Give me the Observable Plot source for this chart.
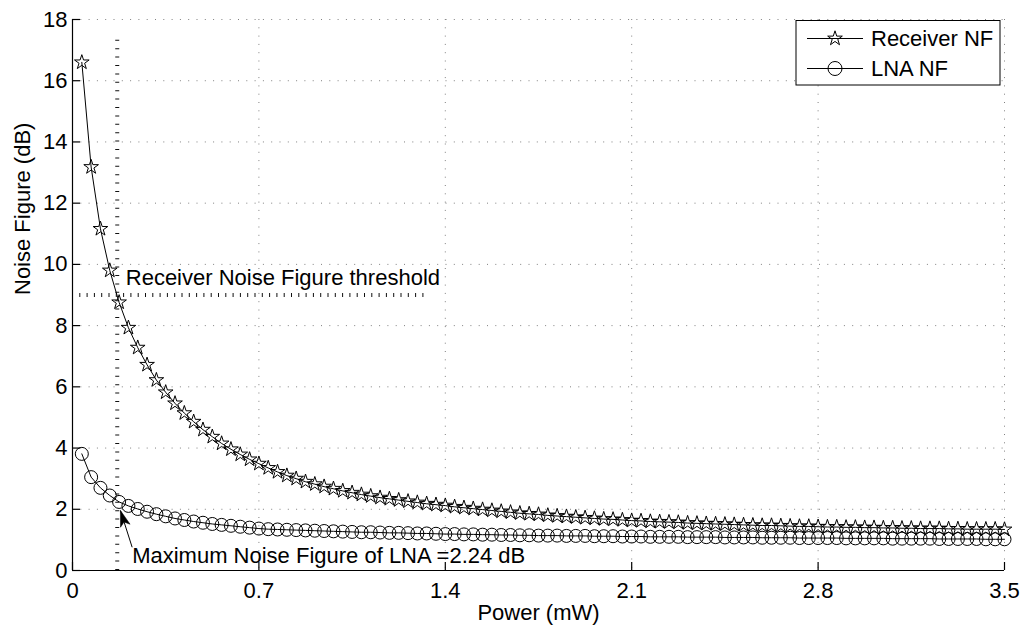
<!DOCTYPE html>
<html><head><meta charset="utf-8">
<script src="https://cdn.jsdelivr.net/npm/d3@7"></script>
<script src="https://cdn.jsdelivr.net/npm/@observablehq/plot@0.6"></script>
<style>html,body{margin:0;padding:0;background:#fff;} #chart{width:1020px;height:626px;}</style>
</head><body><div id="chart"></div>
<script>
// ---- data ----
const power = [
  0.035,0.07,0.105,0.14,0.175,0.21,0.245,0.28,0.315,0.35,
  0.385,0.42,0.455,0.49,0.525,0.56,0.595,0.63,0.665,0.7,
  0.735,0.77,0.805,0.84,0.875,0.91,0.945,0.98,1.015,1.05,
  1.085,1.12,1.155,1.19,1.225,1.26,1.295,1.33,1.365,1.4,
  1.435,1.47,1.505,1.54,1.575,1.61,1.645,1.68,1.715,1.75,
  1.785,1.82,1.855,1.89,1.925,1.96,1.995,2.03,2.065,2.1,
  2.135,2.17,2.205,2.24,2.275,2.31,2.345,2.38,2.415,2.45,
  2.485,2.52,2.555,2.59,2.625,2.66,2.695,2.73,2.765,2.8,
  2.835,2.87,2.905,2.94,2.975,3.01,3.045,3.08,3.115,3.15,
  3.185,3.22,3.255,3.29,3.325,3.36,3.395,3.43,3.465,3.5
];
const receiverNF = [
  16.60,13.18,11.16,9.80,8.76,7.93,7.28,6.72,6.22,5.82,
  5.46,5.14,4.86,4.60,4.37,4.15,3.96,3.79,3.63,3.49,
  3.35,3.22,3.10,3.00,2.90,2.82,2.74,2.67,2.60,2.54,
  2.48,2.43,2.38,2.34,2.30,2.26,2.22,2.18,2.15,2.12,
  2.08,2.05,2.02,1.99,1.96,1.93,1.90,1.87,1.85,1.83,
  1.80,1.78,1.76,1.74,1.72,1.70,1.68,1.67,1.65,1.63,
  1.62,1.60,1.59,1.58,1.57,1.55,1.54,1.53,1.52,1.51,
  1.50,1.49,1.48,1.47,1.47,1.46,1.45,1.44,1.44,1.43,
  1.42,1.42,1.41,1.41,1.40,1.40,1.39,1.39,1.38,1.38,
  1.37,1.37,1.37,1.36,1.36,1.35,1.35,1.35,1.35,1.34
];
const lnaNF = [
  3.81,3.05,2.70,2.45,2.24,2.11,2.01,1.92,1.84,1.77,
  1.70,1.65,1.60,1.56,1.52,1.49,1.46,1.43,1.40,1.37,
  1.35,1.34,1.33,1.32,1.31,1.30,1.29,1.28,1.27,1.26,
  1.25,1.25,1.24,1.23,1.23,1.22,1.21,1.21,1.20,1.19,
  1.19,1.18,1.18,1.17,1.17,1.16,1.16,1.15,1.15,1.14,
  1.14,1.14,1.13,1.13,1.13,1.12,1.12,1.12,1.11,1.11,
  1.11,1.10,1.10,1.10,1.10,1.09,1.09,1.09,1.09,1.08,
  1.08,1.08,1.08,1.07,1.07,1.07,1.07,1.06,1.06,1.06,
  1.06,1.06,1.05,1.05,1.05,1.05,1.05,1.04,1.04,1.04,
  1.04,1.04,1.03,1.03,1.03,1.03,1.03,1.02,1.02,1.02
];
const xTicks = [0, 0.7, 1.4, 2.1, 2.8, 3.5];
const yTicks = [0, 2, 4, 6, 8, 10, 12, 14, 16, 18];
const seriesNames = ["Receiver NF", "LNA NF"];
const xLabel = "Power (mW)";
const yLabel = "Noise Figure (dB)";
const thresholdNF = 9;
const thresholdEnd = 1.34;
const thresholdLabel = "Receiver Noise Figure threshold";
const maxLnaPower = 0.168;
const maxLnaTop = 17.5;
const maxLnaLabel = "Maximum Noise Figure of LNA =2.24 dB";
const arrowFrom = {x: 0.224, y: 0.76};
const arrowTo = {x: 0.180, y: 1.96};

// ---- build ----
const rx = power.map((p, i) => ({p, nf: receiverNF[i]}));
const lna = power.map((p, i) => ({p, nf: lnaNF[i]}));

const font = "'Liberation Sans', Arial, Helvetica, sans-serif";
const W = 1020, H = 626, mL = 72, mR = 16, mT = 19, mB = 56;
const plotW = W - mL - mR, plotH = H - mT - mB;

// filled arrowhead symbol, tip at origin pointing up
const arrowHead = {
  draw(ctx) {
    ctx.moveTo(0, 0);
    ctx.lineTo(-5, 16);
    ctx.lineTo(0, 12);
    ctx.lineTo(5, 16);
    ctx.closePath();
  }
};
const headAngle = Math.atan2(-(-11.7), 36.7) * 180 / Math.PI * -1; // ~ -17.7 deg

const chart = Plot.plot({
  width: W, height: H,
  marginLeft: mL, marginRight: mR, marginTop: mT, marginBottom: mB,
  style: {fontFamily: font, fontSize: "22px", background: "#fff", color: "#000", overflow: "visible"},
  x: {domain: [0, 3.5]},
  y: {domain: [0, 18]},
  marks: [
    Plot.gridX(xTicks, {stroke: "#808080", strokeOpacity: 1, strokeDasharray: "1,7.3"}),
    Plot.gridY(yTicks, {stroke: "#808080", strokeOpacity: 1, strokeDasharray: "1,7.3"}),
    Plot.ruleY([thresholdNF], {y: d => d, x1: 0, x2: thresholdEnd, stroke: "#111", strokeWidth: 4, strokeDasharray: "1,6.3"}),
    Plot.ruleX([maxLnaPower], {x: d => d, y1: 0, y2: maxLnaTop, stroke: "#111", strokeWidth: 4, strokeDasharray: "1,7.4"}),
    Plot.line(lna, {x: "p", y: "nf", stroke: "#000", strokeWidth: 1}),
    Plot.dot(lna, {x: "p", y: "nf", symbol: "circle", r: 6.5, stroke: "#000", fill: "none", strokeWidth: 1}),
    Plot.line(rx, {x: "p", y: "nf", stroke: "#000", strokeWidth: 1}),
    Plot.dot(rx, {x: "p", y: "nf", symbol: "star", r: 4.6, stroke: "#000", fill: "none", strokeWidth: 1}),
    Plot.ruleX([0], {stroke: "#000", strokeWidth: 1.2}),
    Plot.ruleY([0], {stroke: "#000", strokeWidth: 1.2}),
    Plot.tickX(xTicks, {x: d => d, insetTop: plotH - 8, stroke: "#000", strokeWidth: 1.2}),
    Plot.tickY(yTicks, {y: d => d, insetRight: plotW - 8, stroke: "#000", strokeWidth: 1.2}),
    Plot.axisX(xTicks, {tickSize: 0, tickPadding: 12, tickFormat: d => String(d), label: null, fontSize: 22}),
    Plot.axisY(yTicks, {tickSize: 0, tickPadding: 5, tickFormat: d => String(d), label: null, fontSize: 22}),
    Plot.text([xLabel], {text: d => d, frameAnchor: "bottom", dy: 42, lineAnchor: "middle", fontSize: 22}),
    Plot.text([yLabel], {text: d => d, frameAnchor: "left", dx: -50, rotate: -90, lineAnchor: "middle", fontSize: 22}),
    Plot.text([thresholdLabel], {text: d => d, x: 0.2, y: 9.57, textAnchor: "start", lineAnchor: "middle", fontSize: 22}),
    Plot.text([maxLnaLabel], {text: d => d, x: 0.224, y: 0.49, textAnchor: "start", lineAnchor: "middle", fontSize: 22}),
    Plot.link([{a: arrowFrom, b: arrowTo}], {x1: d => d.a.x, y1: d => d.a.y, x2: d => d.b.x, y2: d => d.b.y,
      stroke: "#000", strokeWidth: 1}),
    Plot.dot([arrowTo], {x: "x", y: "y", symbol: arrowHead, rotate: headAngle, fill: "#000", stroke: "#000", strokeWidth: 0.5, r: 6})
  ]
});

// ---- legend ----
const svg = d3.select(chart);
const lg = svg.append("g").attr("class", "legend").attr("text-anchor", "start");
lg.append("rect").attr("x", 796).attr("y", 20.5).attr("width", 204).attr("height", 64.5)
  .attr("fill", "#fff").attr("stroke", "#000").attr("stroke-width", 1);
const symbols = [d3.symbol(d3.symbolStar, Math.PI * 4.6 * 4.6), d3.symbol(d3.symbolCircle, Math.PI * 7 * 7)];
seriesNames.forEach((name, i) => {
  const y = 38.5 + i * 30;
  lg.append("line").attr("x1", 807).attr("x2", 863).attr("y1", y).attr("y2", y).attr("stroke", "#000");
  lg.append("path").attr("d", symbols[i]()).attr("transform", `translate(835,${y})`)
    .attr("fill", "none").attr("stroke", "#000");
  lg.append("text").attr("x", 871).attr("y", y).attr("dy", "0.35em").attr("text-anchor", "start")
    .attr("font-size", 22).attr("font-family", font).attr("fill", "#000").text(name);
});

document.getElementById("chart").append(chart);
</script>
</body></html>
